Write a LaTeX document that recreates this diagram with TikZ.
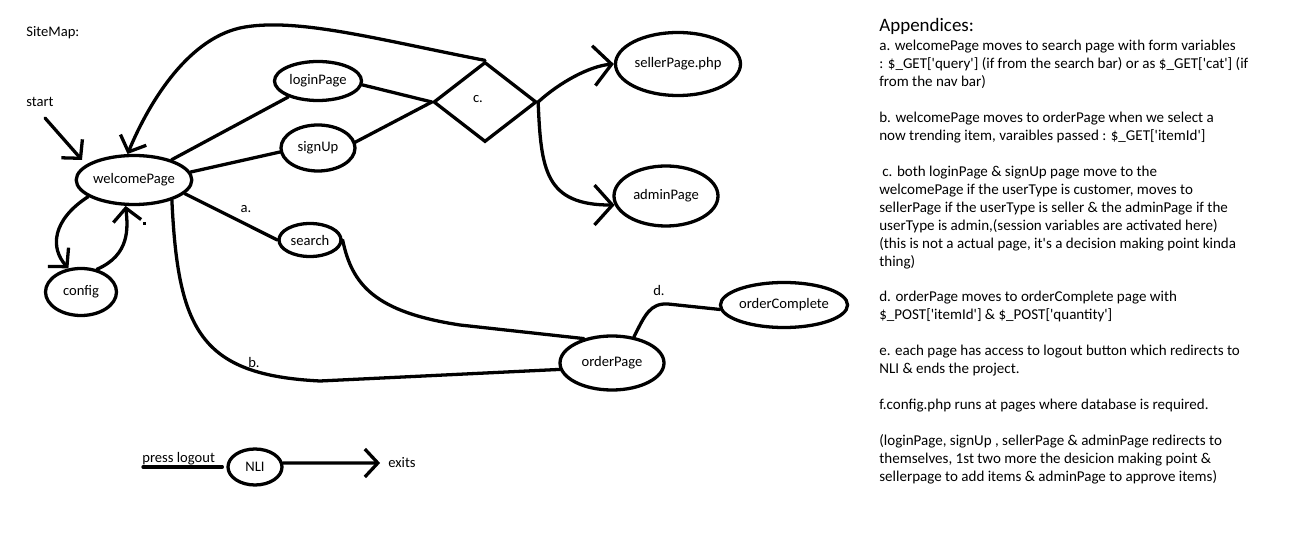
\documentclass[tikz,border=0pt]{standalone}
\usepackage{fontspec}
\setmainfont{Carlito}[Ligatures=TeXOff]
\usetikzlibrary{shapes.geometric,arrows.meta}
\newlength\pxu \setlength\pxu{0.02cm}
\begin{document}
\begin{tikzpicture}[x=0.02cm,y=-0.02cm,
  every node/.style={font=\fontsize{8.3}{10.2}\selectfont, inner sep=0pt},
  pg/.style={draw, ellipse, line width=1.87pt, inner sep=0pt},
  ln/.style={line width=1.87pt, line cap=round, line join=round},
  arr/.style={ln, -{Straight Barb[length=7.4pt,width=15.9pt]}},
  bigarr/.style={ln, -{Straight Barb[length=10.2pt,width=22.7pt]}},
  lbl/.style={anchor=center},
]
\fill[white] (0,0) rectangle (1299,540);
\useasboundingbox (0,0) rectangle (1299,540);

% pages
\node[pg, minimum width=115\pxu, minimum height=49\pxu] (welcome) at (134,180) {welcomePage};
\node[pg, minimum width=71\pxu, minimum height=47\pxu] (config) at (81,292) {config};
\node[pg, minimum width=87\pxu, minimum height=39\pxu] (login) at (318,81) {loginPage};
\node[pg, minimum width=74\pxu, minimum height=46\pxu] (signup) at (318,148) {signUp};
\node[pg, minimum width=62\pxu, minimum height=33\pxu] (search) at (310,240) {search};
\node[draw, diamond, line width=1.87pt, minimum width=103\pxu, minimum height=80\pxu] (dec) at (485,102) {};
\node[lbl] (clbl) at (478,99) {c.};
\node[pg, minimum width=125\pxu, minimum height=63\pxu] (seller) at (678,64) {sellerPage.php};
\node[pg, minimum width=104\pxu, minimum height=60\pxu] (admin) at (666,196) {adminPage};
\node[pg, minimum width=104\pxu, minimum height=54\pxu] (order) at (612,363) {orderPage};
\node[pg, minimum width=123\pxu, minimum height=45\pxu] (complete) at (784,305) {orderComplete};
\node[pg, minimum width=54\pxu, minimum height=36\pxu] (nli) at (255,467) {NLI};

% texts
\node[anchor=base west] (sitemap) at (26,37) {SiteMap:};
\node[anchor=base west] (start) at (26,107) {start};
\node[lbl] (la) at (246,209) {a.};
\node[lbl] (lb) at (254,362) {b.};
\node[lbl] (ld) at (659,290) {d.};
\node[anchor=base west] (press) at (142,463) {press logout};
\node[anchor=west] (exits) at (388,463) {exits};

% connectors
\coordinate (s1) at (45,118);
\coordinate (s2) at (82,160);
\draw[arr] (s1) -- (s2);
\draw[ln] (welcome) -- (login);
\draw[ln] (welcome.8) -- (signup.186);
\draw[ln] (welcome.-15) -- (search.west);
\draw[ln] (login.-5) -- (dec.west);
\draw[ln] (signup.9) -- (dec.west);
\draw[arr] (dec.north) .. controls (380,40) and (300,18) .. (245,27)
  .. controls (190,36) and (150,100) .. (welcome.104);
\draw[bigarr] (dec.east) .. controls (560,82) and (590,66) .. (seller.west);
\draw[bigarr] (dec.east) .. controls (541,170) and (545,205) .. (admin.190);
\draw[arr] (welcome.200) .. controls (52,220) and (50,248) .. (config.118);
\draw[arr] (config.55) .. controls (130,255) and (128,228) .. (welcome.252);
\fill (143,222) rectangle (146,225);
\draw[ln] (welcome.-28) .. controls (178,330) and (200,375) .. (320,381) -- (order.187);
\draw[ln] (search.east) .. controls (352,285) and (375,312) .. (460,325) -- (order.139);
\draw[ln] (order.50) .. controls (645,315) and (650,303) .. (668,304) -- (complete.184);
\coordinate (pl) at (143,467);
\draw[ln, shorten >=2.3pt] (pl) -- (nli.west);
\draw[arr, shorten >=4.5pt] (nli.8) -- (exits.west);

% appendix
\node[anchor=base west, font=\fontsize{10.8}{13}\selectfont] (apphead) at (879,32) {Appendices:};
\node[anchor=base west, font=\fontsize{8.55}{10.2}\selectfont] (appbody) at (879,51) {\begin{tabular}[t]{@{}l@{}}
a. welcomePage moves to search page with form variables\\
: \$\_GET['query'] (if from the search bar) or as \$\_GET['cat'] (if\\
from the nav bar)\\
\\
b. welcomePage moves to orderPage when we select a\\
now trending item, varaibles passed : \$\_GET['itemId']\\
\\
\hspace*{1.7pt}c. both loginPage \& signUp page move to the\\
welcomePage if the userType is customer, moves to\\
sellerPage if the userType is seller \& the adminPage if the\\
userType is admin,(session variables are activated here)\\
(this is not a actual page, it's a decision making point kinda\\
thing)\\
\\
d. orderPage moves to orderComplete page with\\
\$\_POST['itemId'] \& \$\_POST['quantity']\\
\\
e. each page has access to logout button which redirects to\\
NLI \& ends the project.\\
\\
f.config.php runs at pages where database is required.\\
\\
(loginPage, signUp , sellerPage \& adminPage redirects to\\
themselves, 1st two more the desicion making point \&\\
sellerpage to add items \& adminPage to approve items)
\end{tabular}};
\end{tikzpicture}
\end{document}
